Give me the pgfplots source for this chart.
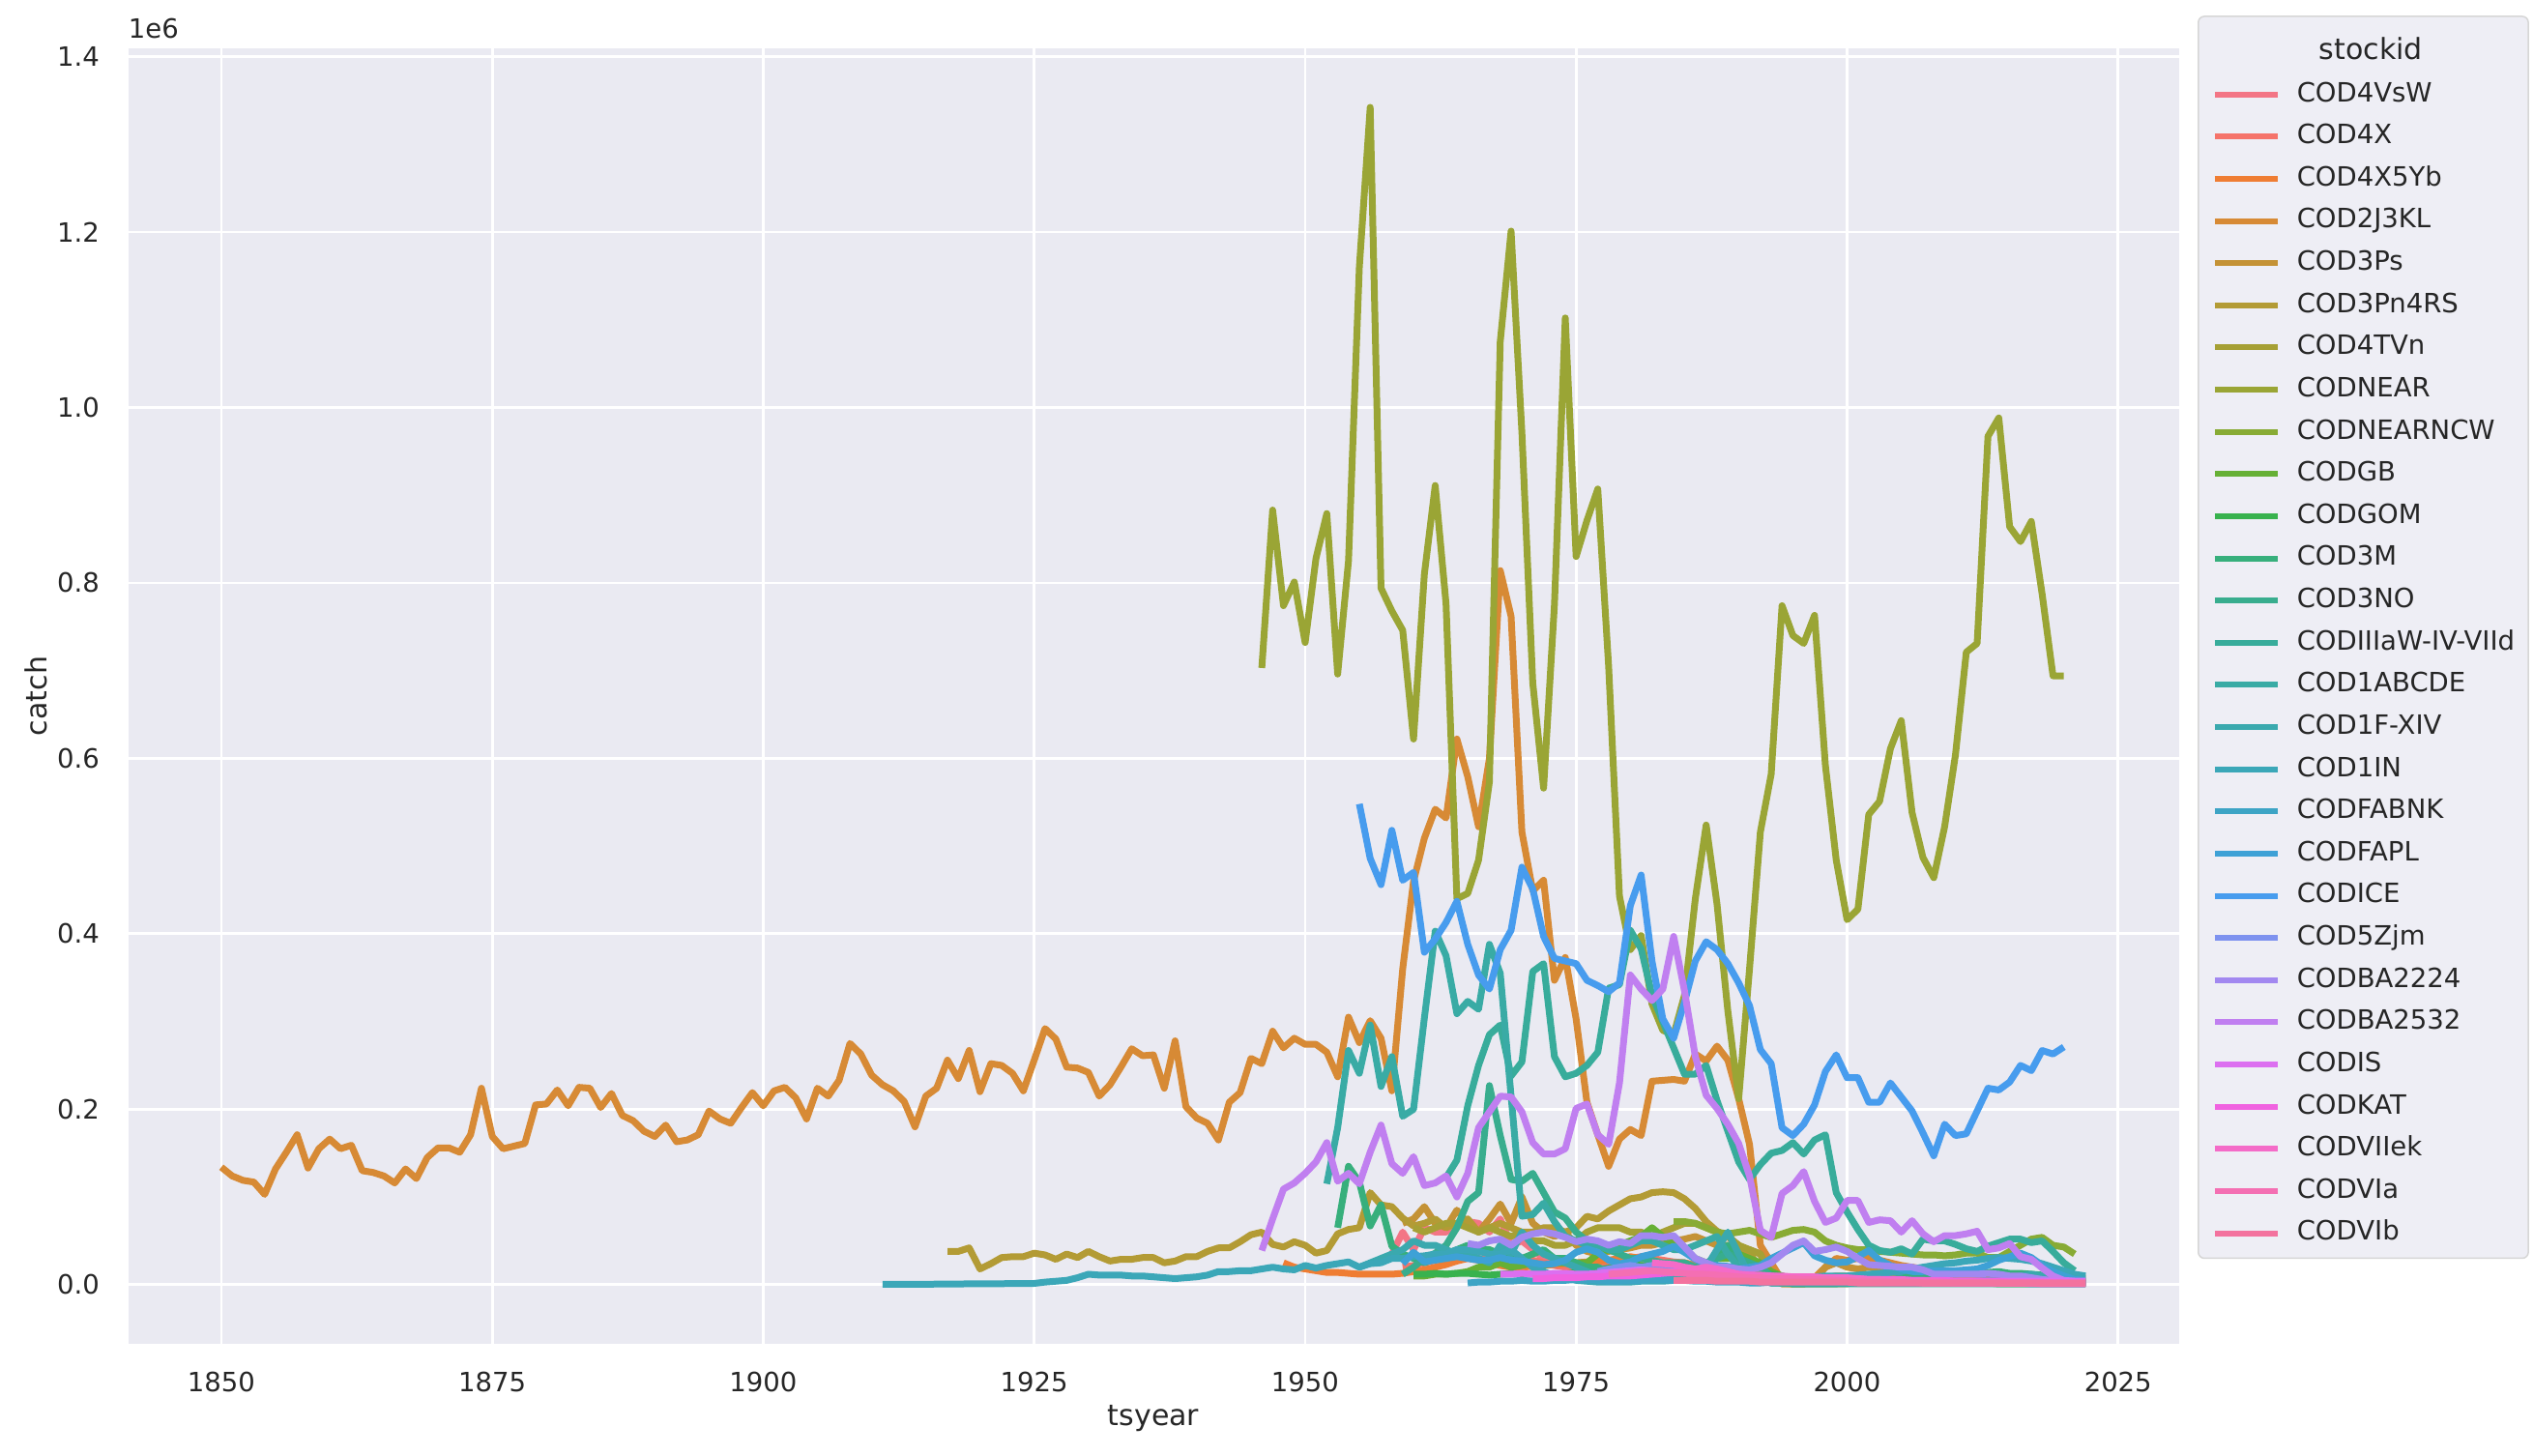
\documentclass[border=0pt]{standalone}
\usepackage{fontspec}
\setmainfont{DejaVu Sans}
\usepackage{pgfplots}
\pgfplotsset{compat=1.18}
\definecolor{bgc}{HTML}{EAEAF2}
\definecolor{txt}{HTML}{262626}
\definecolor{legfill}{HTML}{EEEEF5}
\definecolor{legedge}{HTML}{D6D6D6}
\definecolor{c01}{HTML}{F37585}
\definecolor{c02}{HTML}{F5736A}
\definecolor{c03}{HTML}{EF7D33}
\definecolor{c04}{HTML}{D78A35}
\definecolor{c05}{HTML}{C49236}
\definecolor{c06}{HTML}{B39B35}
\definecolor{c07}{HTML}{A6A035}
\definecolor{c08}{HTML}{9AA535}
\definecolor{c09}{HTML}{88AB35}
\definecolor{c10}{HTML}{66B035}
\definecolor{c11}{HTML}{38B24E}
\definecolor{c12}{HTML}{37AF7C}
\definecolor{c13}{HTML}{38AD8E}
\definecolor{c14}{HTML}{38AC9B}
\definecolor{c15}{HTML}{39ABA5}
\definecolor{c16}{HTML}{3AA9AE}
\definecolor{c17}{HTML}{3BA7B8}
\definecolor{c18}{HTML}{3DA4C5}
\definecolor{c19}{HTML}{3EA1D6}
\definecolor{c20}{HTML}{479CEE}
\definecolor{c21}{HTML}{7E92EF}
\definecolor{c22}{HTML}{A288F0}
\definecolor{c23}{HTML}{C07FF0}
\definecolor{c24}{HTML}{DC6FF0}
\definecolor{c25}{HTML}{F062E0}
\definecolor{c26}{HTML}{F46BC8}
\definecolor{c27}{HTML}{F46FB3}
\definecolor{c28}{HTML}{F3729E}
\begin{document}
\begin{tikzpicture}
\useasboundingbox (-53.0pt,-46.1pt) rectangle (995.4pt,555.9pt);
\begin{axis}[
  at={(0pt,0pt)}, anchor=south west,
  scale only axis, width=848.4pt, height=535.8pt,
  xmin=1841.4, xmax=2030.6, ymin=-0.0671, ymax=1.409,
  clip mode=individual,
  axis background/.style={fill=bgc},
  axis line style={draw=none},
  major tick length=0pt,
  xmajorgrids, ymajorgrids,
  major grid style={draw=white, line width=1.1pt},
  xtick={1850,1875,1900,1925,1950,1975,2000,2025},
  xticklabels={1850,1875,1900,1925,1950,1975,2000,2025},
  ytick={0,0.2,0.4,0.6,0.8,1.0,1.2,1.4},
  yticklabels={0.0,0.2,0.4,0.6,0.8,1.0,1.2,1.4},
  /pgf/number format/assume math mode=true,
  tick label style={font=\fontsize{11}{13}\selectfont, text=txt},
  xticklabel style={anchor=north, yshift=-8.3pt},
  yticklabel style={anchor=east, xshift=-8.3pt},
  xlabel={tsyear}, ylabel={catch},
  label style={font=\fontsize{12}{14}\selectfont, text=txt},
  xlabel style={at={(axis description cs:0.5,-0.0580)}, anchor=center},
  ylabel style={at={(axis description cs:-0.0451,0.5)}, anchor=center},
  every axis plot/.append style={line width=2.8pt, line join=round},
  legend style={
    at={(1.0092,1.0254)}, anchor=north west,
    draw=legedge, fill=legfill, rounded corners=2.5pt, line width=0.6pt,
    font=\fontsize{11}{13}\selectfont, text=txt,
    inner xsep=5.6pt, inner ysep=4.8pt,
    row sep=6.35pt, column sep=6.8pt,
    nodes={inner sep=0pt, text height=8.5pt, text depth=2.6pt, anchor=west},
  },
  legend cell align=left,
  legend image code/.code={\draw[line width=2.4pt, sharp corners] (0pt,0pt) -- (26pt,0pt);},
]
\addlegendimage{empty legend}
\addlegendentry[text height=13pt]{\makebox[61.2pt][c]{\fontsize{12}{14}\selectfont stockid}}

% COD4VsW
\addplot[c01] coordinates {(1958,.035)(1959,.06)(1960,.04)(1961,.065)(1962,.06)(1963,.06)(1964,.07)(1965,.072)(1966,.07)(1967,.06)(1968,.075)(1969,.045)(1970,.05)(1971,.04)(1972,.03)(1973,.025)(1974,.025)(1975,.02)(1976,.02)(1977,.02)(1978,.018)(1979,.02)(1980,.025)(1981,.03)(1982,.03)(1983,.025)(1984,.02)(1985,.015)(1986,.012)(1987,.01)(1988,.01)(1989,.01)(1990,.008)(1991,.007)(1992,.006)(1993,.003)(1994,.002)(1995,.002)(1996,.002)(1997,.002)(1998,.002)(1999,.002)(2000,.002)(2001,.002)(2002,.002)(2003,.002)(2004,.002)(2005,.002)(2006,.002)(2007,.002)(2008,.002)(2009,.002)(2010,.002)(2011,.002)(2012,.002)(2013,.002)(2014,.002)(2015,.002)(2016,.002)(2017,.002)(2018,.002)(2019,.002)(2020,.002)(2021,.002)(2022,.002)};
\addlegendentry{COD4VsW}
% COD4X
\addplot[c02] coordinates {(1959,.02)(1960,.022)(1961,.025)(1962,.028)(1963,.03)(1964,.032)(1965,.035)(1966,.03)(1967,.028)(1968,.03)(1969,.032)(1970,.03)(1971,.028)(1972,.025)(1973,.022)(1974,.02)(1975,.02)(1976,.022)(1977,.024)(1978,.026)(1979,.028)(1980,.03)(1981,.032)(1982,.03)(1983,.028)(1984,.026)(1985,.025)(1986,.022)(1987,.02)(1988,.018)(1989,.016)(1990,.014)(1991,.012)(1992,.01)(1993,.009)(1994,.008)(1995,.008)(1996,.008)(1997,.007)(1998,.007)(1999,.006)(2000,.006)(2001,.006)(2002,.006)(2003,.006)(2004,.005)(2005,.005)(2006,.005)(2007,.005)(2008,.005)(2009,.005)(2010,.005)(2011,.005)(2012,.005)(2013,.005)(2014,.004)(2015,.004)(2016,.004)(2017,.004)(2018,.004)(2019,.004)(2020,.004)(2021,.004)(2022,.004)};
\addlegendentry{COD4X}
% COD4X5Yb
\addplot[c03] coordinates {(1948,.025)(1949,.02)(1950,.018)(1951,.016)(1952,.014)(1953,.014)(1954,.013)(1955,.012)(1956,.012)(1957,.012)(1958,.012)(1959,.013)(1960,.015)(1961,.017)(1962,.02)(1963,.023)(1964,.027)(1965,.03)(1966,.028)(1967,.025)(1968,.022)(1969,.02)(1970,.02)(1971,.021)(1972,.022)(1973,.023)(1974,.024)(1975,.025)(1976,.026)(1977,.027)(1978,.028)(1979,.03)(1980,.032)(1981,.03)(1982,.028)(1983,.025)(1984,.025)(1985,.025)(1986,.022)(1987,.02)(1988,.02)(1989,.018)(1990,.015)(1991,.012)(1992,.01)(1993,.008)(1994,.006)(1995,.005)(1996,.005)(1997,.005)(1998,.005)(1999,.005)(2000,.005)(2001,.005)(2002,.004)(2003,.004)(2004,.004)(2005,.004)(2006,.004)(2007,.004)(2008,.004)(2009,.004)(2010,.004)(2011,.004)(2012,.004)(2013,.004)(2014,.003)(2015,.003)(2016,.003)(2017,.003)(2018,.003)(2019,.003)(2020,.003)(2021,.003)(2022,.003)};
\addlegendentry{COD4X5Yb}
% COD2J3KL
\addplot[c04] coordinates {(1850,.134)(1851,.124)(1852,.119)(1853,.117)(1854,.103)(1855,.132)(1856,.151)(1857,.171)(1858,.133)(1859,.155)(1860,.166)(1861,.155)(1862,.159)(1863,.130)(1864,.128)(1865,.124)(1866,.116)(1867,.132)(1868,.121)(1869,.145)(1870,.156)(1871,.156)(1872,.151)(1873,.171)(1874,.224)(1875,.169)(1876,.155)(1877,.158)(1878,.161)(1879,.205)(1880,.206)(1881,.222)(1882,.204)(1883,.225)(1884,.224)(1885,.202)(1886,.218)(1887,.193)(1888,.187)(1889,.175)(1890,.169)(1891,.182)(1892,.163)(1893,.165)(1894,.171)(1895,.198)(1896,.189)(1897,.184)(1898,.202)(1899,.219)(1900,.204)(1901,.221)(1902,.225)(1903,.213)(1904,.189)(1905,.224)(1906,.215)(1907,.233)(1908,.275)(1909,.263)(1910,.239)(1911,.228)(1912,.221)(1913,.209)(1914,.180)(1915,.215)(1916,.224)(1917,.256)(1918,.235)(1919,.267)(1920,.220)(1921,.252)(1922,.250)(1923,.241)(1924,.221)(1925,.256)(1926,.292)(1927,.280)(1928,.248)(1929,.247)(1930,.242)(1931,.215)(1932,.228)(1933,.248)(1934,.269)(1935,.261)(1936,.262)(1937,.224)(1938,.278)(1939,.203)(1940,.190)(1941,.184)(1942,.165)(1943,.208)(1944,.219)(1945,.258)(1946,.252)(1947,.289)(1948,.270)(1949,.281)(1950,.274)(1951,.274)(1952,.265)(1953,.237)(1954,.305)(1955,.276)(1956,.301)(1957,.281)(1958,.221)(1959,.36)(1960,.46)(1961,.509)(1962,.542)(1963,.532)(1964,.622)(1965,.579)(1966,.522)(1967,.60)(1968,.814)(1969,.762)(1970,.516)(1971,.449)(1972,.461)(1973,.347)(1974,.373)(1975,.303)(1976,.208)(1977,.171)(1978,.135)(1979,.166)(1980,.177)(1981,.170)(1982,.232)(1983,.233)(1984,.234)(1985,.232)(1986,.263)(1987,.255)(1988,.272)(1989,.256)(1990,.212)(1991,.16)(1992,.045)(1993,.025)(1994,.005)(1995,.004)(1996,.006)(1997,.008)(1998,.02)(1999,.03)(2000,.028)(2001,.03)(2002,.03)(2003,.028)(2004,.025)(2005,.022)(2006,.02)(2007,.018)(2008,.015)(2009,.015)(2010,.012)(2011,.012)(2012,.012)(2013,.011)(2014,.010)(2015,.010)(2016,.010)(2017,.010)(2018,.009)(2019,.009)(2020,.008)(2021,.008)(2022,.008)};
\addlegendentry{COD2J3KL}
% COD3Ps
\addplot[c05] coordinates {(1959,.07)(1960,.075)(1961,.089)(1962,.07)(1963,.065)(1964,.085)(1965,.07)(1966,.06)(1967,.075)(1968,.092)(1969,.07)(1970,.1)(1971,.07)(1972,.06)(1973,.055)(1974,.06)(1975,.045)(1976,.038)(1977,.035)(1978,.038)(1979,.04)(1980,.042)(1981,.045)(1982,.045)(1983,.048)(1984,.05)(1985,.052)(1986,.055)(1987,.05)(1988,.045)(1989,.045)(1990,.04)(1991,.04)(1992,.035)(1993,.012)(1994,.001)(1995,.001)(1996,.001)(1997,.005)(1998,.02)(1999,.025)(2000,.02)(2001,.018)(2002,.02)(2003,.018)(2004,.016)(2005,.014)(2006,.013)(2007,.012)(2008,.012)(2009,.01)(2010,.01)(2011,.01)(2012,.01)(2013,.009)(2014,.008)(2015,.007)(2016,.006)(2017,.006)(2018,.005)(2019,.004)(2020,.003)(2021,.003)(2022,.003)};
\addlegendentry{COD3Ps}
% COD3Pn4RS
\addplot[c06] coordinates {(1917,.038)(1918,.038)(1919,.042)(1920,.018)(1921,.024)(1922,.031)(1923,.032)(1924,.032)(1925,.036)(1926,.034)(1927,.029)(1928,.035)(1929,.031)(1930,.038)(1931,.032)(1932,.027)(1933,.029)(1934,.029)(1935,.031)(1936,.031)(1937,.025)(1938,.027)(1939,.032)(1940,.032)(1941,.038)(1942,.042)(1943,.042)(1944,.049)(1945,.057)(1946,.060)(1947,.046)(1948,.043)(1949,.049)(1950,.045)(1951,.036)(1952,.039)(1953,.058)(1954,.063)(1955,.065)(1956,.105)(1957,.091)(1958,.089)(1959,.076)(1960,.067)(1961,.070)(1962,.075)(1963,.065)(1964,.07)(1965,.075)(1966,.06)(1967,.065)(1968,.07)(1969,.065)(1970,.06)(1971,.06)(1972,.065)(1973,.065)(1974,.06)(1975,.065)(1976,.078)(1977,.075)(1978,.084)(1979,.091)(1980,.098)(1981,.10)(1982,.105)(1983,.106)(1984,.105)(1985,.098)(1986,.087)(1987,.072)(1988,.061)(1989,.055)(1990,.045)(1991,.035)(1992,.02)(1993,.01)(1994,.002)(1995,.001)(1996,.001)(1997,.005)(1998,.008)(1999,.01)(2000,.01)(2001,.01)(2002,.01)(2003,.009)(2004,.009)(2005,.008)(2006,.008)(2007,.008)(2008,.007)(2009,.007)(2010,.007)(2011,.006)(2012,.006)(2013,.006)(2014,.006)(2015,.006)(2016,.005)(2017,.005)(2018,.005)(2019,.005)(2020,.005)(2021,.005)(2022,.005)};
\addlegendentry{COD3Pn4RS}
% COD4TVn
\addplot[c07] coordinates {(1960,.065)(1961,.06)(1962,.065)(1963,.07)(1964,.07)(1965,.065)(1966,.06)(1967,.065)(1968,.06)(1969,.055)(1970,.06)(1971,.05)(1972,.05)(1973,.045)(1974,.045)(1975,.05)(1976,.06)(1977,.065)(1978,.065)(1979,.065)(1980,.06)(1981,.06)(1982,.055)(1983,.06)(1984,.065)(1985,.07)(1986,.07)(1987,.065)(1988,.06)(1989,.055)(1990,.045)(1991,.04)(1992,.035)(1993,.01)(1994,.001)(1995,.001)(1996,.001)(1997,.001)(1998,.001)(1999,.001)(2000,.001)(2001,.005)(2002,.005)(2003,.004)(2004,.004)(2005,.004)(2006,.004)(2007,.004)(2008,.003)(2009,.003)(2010,.003)(2011,.003)(2012,.003)(2013,.003)(2014,.003)(2015,.003)(2016,.002)(2017,.002)(2018,.002)(2019,.002)(2020,.002)(2021,.002)(2022,.002)};
\addlegendentry{COD4TVn}
% CODNEAR
\addplot[c08] coordinates {(1946,.703)(1947,.883)(1948,.774)(1949,.801)(1950,.732)(1951,.828)(1952,.879)(1953,.696)(1954,.825)(1955,1.160)(1956,1.342)(1957,.794)(1958,.768)(1959,.746)(1960,.622)(1961,.810)(1962,.911)(1963,.776)(1964,.440)(1965,.446)(1966,.484)(1967,.573)(1968,1.075)(1969,1.201)(1970,.971)(1971,.686)(1972,.566)(1973,.775)(1974,1.102)(1975,.830)(1976,.871)(1977,.907)(1978,.705)(1979,.443)(1980,.382)(1981,.398)(1982,.32)(1983,.29)(1984,.285)(1985,.33)(1986,.44)(1987,.524)(1988,.434)(1989,.312)(1990,.212)(1991,.36)(1992,.516)(1993,.582)(1994,.774)(1995,.740)(1996,.731)(1997,.763)(1998,.592)(1999,.484)(2000,.416)(2001,.428)(2002,.536)(2003,.551)(2004,.611)(2005,.643)(2006,.538)(2007,.487)(2008,.464)(2009,.522)(2010,.604)(2011,.721)(2012,.731)(2013,.967)(2014,.988)(2015,.864)(2016,.847)(2017,.870)(2018,.787)(2019,.694)(2020,.694)};
\addlegendentry{CODNEAR}
% CODNEARNCW
\addplot[c09] coordinates {(1984,.072)(1985,.072)(1986,.07)(1987,.065)(1988,.06)(1989,.058)(1990,.06)(1991,.062)(1992,.058)(1993,.054)(1994,.058)(1995,.062)(1996,.063)(1997,.06)(1998,.05)(1999,.045)(2000,.042)(2001,.04)(2002,.04)(2003,.038)(2004,.037)(2005,.036)(2006,.035)(2007,.034)(2008,.034)(2009,.033)(2010,.034)(2011,.036)(2012,.036)(2013,.031)(2014,.031)(2015,.038)(2016,.045)(2017,.052)(2018,.054)(2019,.045)(2020,.043)(2021,.035)};
\addlegendentry{CODNEARNCW}
% CODGB
\addplot[c10] coordinates {(1960,.01)(1961,.01)(1962,.012)(1963,.012)(1964,.013)(1965,.015)(1966,.02)(1967,.02)(1968,.025)(1969,.02)(1970,.022)(1971,.025)(1972,.022)(1973,.025)(1974,.025)(1975,.025)(1976,.025)(1977,.035)(1978,.04)(1979,.045)(1980,.05)(1981,.055)(1982,.065)(1983,.055)(1984,.045)(1985,.04)(1986,.03)(1987,.025)(1988,.03)(1989,.03)(1990,.035)(1991,.03)(1992,.025)(1993,.015)(1994,.01)(1995,.005)(1996,.004)(1997,.004)(1998,.004)(1999,.004)(2000,.004)(2001,.004)(2002,.004)(2003,.003)(2004,.003)(2005,.003)(2006,.003)(2007,.003)(2008,.003)(2009,.003)(2010,.003)(2011,.003)(2012,.002)(2013,.002)(2014,.002)(2015,.002)(2016,.002)(2017,.002)(2018,.002)(2019,.002)(2020,.002)(2021,.002)(2022,.002)};
\addlegendentry{CODGB}
% CODGOM
\addplot[c11] coordinates {(1960,.012)(1961,.012)(1962,.013)(1963,.012)(1964,.013)(1965,.013)(1966,.012)(1967,.011)(1968,.012)(1969,.013)(1970,.012)(1971,.012)(1972,.011)(1973,.011)(1974,.012)(1975,.014)(1976,.015)(1977,.017)(1978,.019)(1979,.021)(1980,.023)(1981,.022)(1982,.021)(1983,.02)(1984,.018)(1985,.016)(1986,.014)(1987,.014)(1988,.015)(1989,.018)(1990,.02)(1991,.021)(1992,.016)(1993,.012)(1994,.01)(1995,.007)(1996,.006)(1997,.006)(1998,.005)(1999,.004)(2000,.004)(2001,.004)(2002,.004)(2003,.004)(2004,.003)(2005,.003)(2006,.003)(2007,.003)(2008,.003)(2009,.003)(2010,.003)(2011,.003)(2012,.002)(2013,.002)(2014,.001)(2015,.001)(2016,.001)(2017,.001)(2018,.001)(2019,.001)(2020,.001)(2021,.001)(2022,.001)};
\addlegendentry{CODGOM}
% COD3M
\addplot[c12] coordinates {(1953,.065)(1954,.135)(1955,.117)(1956,.067)(1957,.091)(1958,.044)(1959,.035)(1960,.03)(1961,.025)(1962,.03)(1963,.035)(1964,.04)(1965,.045)(1966,.04)(1967,.04)(1968,.035)(1969,.03)(1970,.03)(1971,.035)(1972,.04)(1973,.03)(1974,.03)(1975,.025)(1976,.02)(1977,.02)(1978,.015)(1979,.012)(1980,.012)(1981,.012)(1982,.012)(1983,.012)(1984,.012)(1985,.012)(1986,.015)(1987,.02)(1988,.03)(1989,.045)(1990,.03)(1991,.025)(1992,.015)(1993,.01)(1994,.003)(1995,.001)(1996,.001)(1997,.001)(1998,.001)(1999,.001)(2000,.005)(2001,.005)(2002,.004)(2003,.004)(2004,.005)(2005,.008)(2006,.01)(2007,.012)(2008,.012)(2009,.015)(2010,.012)(2011,.014)(2012,.012)(2013,.014)(2014,.015)(2015,.013)(2016,.013)(2017,.012)(2018,.011)(2019,.01)(2020,.009)(2021,.008)(2022,.007)};
\addlegendentry{COD3M}
% COD3NO
\addplot[c13] coordinates {(1959,.012)(1960,.02)(1961,.03)(1962,.036)(1963,.045)(1964,.065)(1965,.095)(1966,.105)(1967,.227)(1968,.17)(1969,.12)(1970,.118)(1971,.127)(1972,.105)(1973,.083)(1974,.076)(1975,.06)(1976,.05)(1977,.045)(1978,.04)(1979,.035)(1980,.03)(1981,.03)(1982,.028)(1983,.025)(1984,.025)(1985,.025)(1986,.02)(1987,.025)(1988,.03)(1989,.035)(1990,.03)(1991,.025)(1992,.02)(1993,.01)(1994,.005)(1995,.001)(1996,.001)(1997,.001)(1998,.001)(1999,.001)(2000,.001)(2001,.001)(2002,.001)(2003,.001)(2004,.001)(2005,.001)(2006,.001)(2007,.001)(2008,.001)(2009,.001)(2010,.001)(2011,.001)(2012,.001)(2013,.001)(2014,.001)(2015,.001)(2016,.001)(2017,.001)(2018,.001)(2019,.001)(2020,.001)(2021,.001)(2022,.001)};
\addlegendentry{COD3NO}
% CODIIIaW-IV-VIId
\addplot[c14] coordinates {(1963,.122)(1964,.142)(1965,.204)(1966,.250)(1967,.285)(1968,.296)(1969,.238)(1970,.254)(1971,.357)(1972,.366)(1973,.260)(1974,.237)(1975,.241)(1976,.250)(1977,.265)(1978,.338)(1979,.342)(1980,.404)(1981,.383)(1982,.33)(1983,.30)(1984,.27)(1985,.24)(1986,.24)(1987,.25)(1988,.21)(1989,.175)(1990,.14)(1991,.12)(1992,.137)(1993,.15)(1994,.153)(1995,.162)(1996,.149)(1997,.165)(1998,.171)(1999,.105)(2000,.083)(2001,.063)(2002,.045)(2003,.039)(2004,.037)(2005,.041)(2006,.035)(2007,.052)(2008,.050)(2009,.050)(2010,.046)(2011,.041)(2012,.038)(2013,.044)(2014,.048)(2015,.052)(2016,.052)(2017,.048)(2018,.050)(2019,.038)(2020,.025)(2021,.016)};
\addlegendentry{CODIIIaW-IV-VIId}
% COD1ABCDE
\addplot[c15] coordinates {(1952,.115)(1953,.179)(1954,.267)(1955,.241)(1956,.296)(1957,.226)(1958,.260)(1959,.192)(1960,.200)(1961,.304)(1962,.403)(1963,.375)(1964,.309)(1965,.323)(1966,.314)(1967,.388)(1968,.355)(1969,.215)(1970,.078)(1971,.080)(1972,.093)(1973,.072)(1974,.055)(1975,.05)(1976,.045)(1977,.045)(1978,.04)(1979,.04)(1980,.045)(1981,.05)(1982,.05)(1983,.045)(1984,.04)(1985,.04)(1986,.045)(1987,.05)(1988,.055)(1989,.035)(1990,.02)(1991,.01)(1992,.005)(1993,.002)(1994,.002)(1995,.002)(1996,.002)(1997,.002)(1998,.002)(1999,.002)(2000,.002)(2001,.002)(2002,.002)(2003,.002)(2004,.002)(2005,.002)(2006,.002)(2007,.002)(2008,.002)(2009,.002)(2010,.002)(2011,.002)(2012,.002)(2013,.002)(2014,.002)(2015,.002)(2016,.002)(2017,.002)(2018,.002)(2019,.002)(2020,.002)(2021,.002)(2022,.002)};
\addlegendentry{COD1ABCDE}
% COD1F-XIV
\addplot[c16] coordinates {(1955,.02)(1956,.025)(1957,.03)(1958,.035)(1959,.04)(1960,.05)(1961,.045)(1962,.045)(1963,.04)(1964,.035)(1965,.035)(1966,.03)(1967,.025)(1968,.045)(1969,.035)(1970,.06)(1971,.045)(1972,.035)(1973,.03)(1974,.025)(1975,.02)(1976,.015)(1977,.01)(1978,.01)(1979,.015)(1980,.02)(1981,.015)(1982,.012)(1983,.01)(1984,.008)(1985,.008)(1986,.01)(1987,.02)(1988,.04)(1989,.06)(1990,.035)(1991,.01)(1992,.005)(1993,.002)(1994,.002)(1995,.002)(1996,.002)(1997,.002)(1998,.002)(1999,.002)(2000,.002)(2001,.002)(2002,.002)(2003,.002)(2004,.002)(2005,.002)(2006,.002)(2007,.002)(2008,.002)(2009,.002)(2010,.002)(2011,.003)(2012,.004)(2013,.005)(2014,.007)(2015,.008)(2016,.01)(2017,.012)(2018,.01)(2019,.008)(2020,.006)};
\addlegendentry{COD1F-XIV}
% COD1IN
\addplot[c17] coordinates {(1911,.0005)(1912,.0005)(1913,.0005)(1914,.0005)(1915,.0006)(1916,.0007)(1917,.0008)(1918,.0009)(1919,.001)(1920,.001)(1921,.0012)(1922,.0012)(1923,.0013)(1924,.0014)(1925,.0015)(1926,.003)(1927,.004)(1928,.005)(1929,.008)(1930,.012)(1931,.011)(1932,.011)(1933,.011)(1934,.010)(1935,.010)(1936,.009)(1937,.008)(1938,.007)(1939,.008)(1940,.009)(1941,.011)(1942,.015)(1943,.015)(1944,.016)(1945,.016)(1946,.018)(1947,.020)(1948,.018)(1949,.017)(1950,.022)(1951,.019)(1952,.022)(1953,.024)(1954,.026)(1955,.020)(1956,.024)(1957,.025)(1958,.030)(1959,.030)(1960,.032)(1961,.033)(1962,.035)(1963,.035)(1964,.040)(1965,.040)(1966,.038)(1967,.035)(1968,.035)(1969,.040)(1970,.030)(1971,.020)(1972,.015)(1973,.010)(1974,.008)(1975,.005)(1976,.004)(1977,.003)(1978,.003)(1979,.003)(1980,.003)(1981,.004)(1982,.004)(1983,.004)(1984,.005)(1985,.005)(1986,.006)(1987,.006)(1988,.007)(1989,.007)(1990,.005)(1991,.005)(1992,.005)(1993,.006)(1994,.006)(1995,.007)(1996,.008)(1997,.009)(1998,.010)(1999,.010)(2000,.010)(2001,.011)(2002,.012)(2003,.013)(2004,.014)(2005,.015)(2006,.018)(2007,.020)(2008,.022)(2009,.024)(2010,.025)(2011,.027)(2012,.028)(2013,.030)(2014,.031)(2015,.030)(2016,.029)(2017,.027)(2018,.024)(2019,.020)(2020,.016)(2021,.012)(2022,.010)};
\addlegendentry{COD1IN}
% CODFABNK
\addplot[c18] coordinates {(1965,.002)(1966,.003)(1967,.003)(1968,.004)(1969,.004)(1970,.005)(1971,.004)(1972,.004)(1973,.005)(1974,.005)(1975,.006)(1976,.006)(1977,.005)(1978,.004)(1979,.004)(1980,.005)(1981,.005)(1982,.006)(1983,.006)(1984,.005)(1985,.005)(1986,.004)(1987,.004)(1988,.003)(1989,.003)(1990,.003)(1991,.002)(1992,.002)(1993,.003)(1994,.004)(1995,.004)(1996,.005)(1997,.005)(1998,.004)(1999,.004)(2000,.004)(2001,.003)(2002,.003)(2003,.003)(2004,.002)(2005,.002)(2006,.002)(2007,.002)(2008,.002)(2009,.002)(2010,.002)(2011,.002)(2012,.002)(2013,.002)(2014,.002)(2015,.002)(2016,.002)(2017,.002)(2018,.002)(2019,.002)(2020,.002)(2021,.002)(2022,.002)};
\addlegendentry{CODFABNK}
% CODFAPL
\addplot[c19] coordinates {(1959,.024)(1960,.037)(1961,.026)(1962,.028)(1963,.03)(1964,.032)(1965,.03)(1966,.028)(1967,.028)(1968,.031)(1969,.028)(1970,.027)(1971,.025)(1972,.023)(1973,.024)(1974,.028)(1975,.037)(1976,.041)(1977,.037)(1978,.028)(1979,.024)(1980,.026)(1981,.032)(1982,.035)(1983,.038)(1984,.044)(1985,.037)(1986,.029)(1987,.024)(1988,.022)(1989,.021)(1990,.018)(1991,.02)(1992,.022)(1993,.03)(1994,.036)(1995,.042)(1996,.048)(1997,.033)(1998,.028)(1999,.025)(2000,.026)(2001,.032)(2002,.039)(2003,.028)(2004,.022)(2005,.018)(2006,.015)(2007,.015)(2008,.016)(2009,.016)(2010,.016)(2011,.017)(2012,.018)(2013,.022)(2014,.028)(2015,.032)(2016,.036)(2017,.031)(2018,.022)(2019,.015)(2020,.01)(2021,.006)(2022,.005)};
\addlegendentry{CODFAPL}
% CODICE
\addplot[c20] coordinates {(1955,.548)(1956,.486)(1957,.456)(1958,.518)(1959,.461)(1960,.470)(1961,.379)(1962,.394)(1963,.413)(1964,.437)(1965,.388)(1966,.353)(1967,.337)(1968,.382)(1969,.404)(1970,.476)(1971,.451)(1972,.397)(1973,.372)(1974,.369)(1975,.366)(1976,.347)(1977,.341)(1978,.334)(1979,.344)(1980,.432)(1981,.467)(1982,.369)(1983,.303)(1984,.281)(1985,.322)(1986,.369)(1987,.391)(1988,.382)(1989,.366)(1990,.344)(1991,.318)(1992,.268)(1993,.252)(1994,.179)(1995,.170)(1996,.183)(1997,.205)(1998,.243)(1999,.262)(2000,.236)(2001,.236)(2002,.208)(2003,.208)(2004,.230)(2005,.214)(2006,.198)(2007,.173)(2008,.147)(2009,.183)(2010,.170)(2011,.172)(2012,.198)(2013,.224)(2014,.222)(2015,.231)(2016,.250)(2017,.244)(2018,.267)(2019,.263)(2020,.271)};
\addlegendentry{CODICE}
% COD5Zjm
\addplot[c21] coordinates {(1977,.015)(1978,.018)(1979,.02)(1980,.022)(1981,.02)(1982,.022)(1983,.02)(1984,.018)(1985,.015)(1986,.013)(1987,.012)(1988,.012)(1989,.01)(1990,.01)(1991,.009)(1992,.008)(1993,.008)(1994,.007)(1995,.006)(1996,.006)(1997,.006)(1998,.005)(1999,.005)(2000,.005)(2001,.004)(2002,.004)(2003,.004)(2004,.004)(2005,.003)(2006,.003)(2007,.003)(2008,.003)(2009,.003)(2010,.002)(2011,.002)(2012,.002)(2013,.002)(2014,.002)(2015,.002)(2016,.002)(2017,.001)(2018,.001)(2019,.001)(2020,.001)(2021,.001)(2022,.001)};
\addlegendentry{COD5Zjm}
% CODBA2224
\addplot[c22] coordinates {(1965,.047)(1966,.045)(1967,.050)(1968,.052)(1969,.045)(1970,.054)(1971,.058)(1972,.060)(1973,.058)(1974,.054)(1975,.049)(1976,.052)(1977,.050)(1978,.045)(1979,.049)(1980,.047)(1981,.056)(1982,.056)(1983,.054)(1984,.056)(1985,.043)(1986,.03)(1987,.025)(1988,.02)(1989,.02)(1990,.018)(1991,.017)(1992,.02)(1993,.025)(1994,.035)(1995,.045)(1996,.05)(1997,.038)(1998,.04)(1999,.043)(2000,.038)(2001,.03)(2002,.023)(2003,.022)(2004,.021)(2005,.02)(2006,.02)(2007,.017)(2008,.012)(2009,.012)(2010,.012)(2011,.012)(2012,.012)(2013,.013)(2014,.012)(2015,.01)(2016,.01)(2017,.008)(2018,.006)(2019,.005)(2020,.004)(2021,.003)(2022,.003)};
\addlegendentry{CODBA2224}
% CODBA2532
\addplot[c23] coordinates {(1946,.039)(1947,.075)(1948,.109)(1949,.116)(1950,.127)(1951,.140)(1952,.162)(1953,.118)(1954,.127)(1955,.115)(1956,.151)(1957,.182)(1958,.138)(1959,.127)(1960,.146)(1961,.113)(1962,.116)(1963,.124)(1964,.100)(1965,.127)(1966,.179)(1967,.197)(1968,.215)(1969,.214)(1970,.197)(1971,.162)(1972,.149)(1973,.149)(1974,.155)(1975,.201)(1976,.206)(1977,.171)(1978,.160)(1979,.23)(1980,.353)(1981,.337)(1982,.324)(1983,.337)(1984,.397)(1985,.335)(1986,.26)(1987,.216)(1988,.201)(1989,.183)(1990,.161)(1991,.124)(1992,.062)(1993,.054)(1994,.104)(1995,.113)(1996,.129)(1997,.095)(1998,.071)(1999,.076)(2000,.096)(2001,.096)(2002,.071)(2003,.074)(2004,.073)(2005,.060)(2006,.073)(2007,.058)(2008,.049)(2009,.056)(2010,.056)(2011,.058)(2012,.061)(2013,.040)(2014,.042)(2015,.047)(2016,.032)(2017,.029)(2018,.019)(2019,.010)(2020,.005)(2021,.004)};
\addlegendentry{CODBA2532}
% CODIS
\addplot[c24] coordinates {(1968,.012)(1969,.012)(1970,.013)(1971,.012)(1972,.012)(1973,.013)(1974,.013)(1975,.012)(1976,.012)(1977,.013)(1978,.014)(1979,.015)(1980,.016)(1981,.017)(1982,.016)(1983,.015)(1984,.015)(1985,.016)(1986,.014)(1987,.012)(1988,.011)(1989,.01)(1990,.009)(1991,.008)(1992,.008)(1993,.007)(1994,.007)(1995,.006)(1996,.006)(1997,.006)(1998,.006)(1999,.005)(2000,.005)(2001,.005)(2002,.005)(2003,.005)(2004,.005)(2005,.005)(2006,.005)(2007,.005)(2008,.004)(2009,.004)(2010,.004)(2011,.004)(2012,.004)(2013,.004)(2014,.004)(2015,.004)(2016,.004)(2017,.004)(2018,.004)(2019,.004)(2020,.004)(2021,.004)(2022,.004)};
\addlegendentry{CODIS}
% CODKAT
\addplot[c25] coordinates {(1971,.007)(1972,.007)(1973,.008)(1974,.008)(1975,.008)(1976,.009)(1977,.009)(1978,.01)(1979,.01)(1980,.01)(1981,.011)(1982,.012)(1983,.013)(1984,.014)(1985,.015)(1986,.014)(1987,.013)(1988,.012)(1989,.012)(1990,.012)(1991,.011)(1992,.01)(1993,.01)(1994,.009)(1995,.009)(1996,.008)(1997,.008)(1998,.008)(1999,.007)(2000,.007)(2001,.007)(2002,.006)(2003,.006)(2004,.006)(2005,.006)(2006,.005)(2007,.005)(2008,.005)(2009,.005)(2010,.004)(2011,.004)(2012,.004)(2013,.004)(2014,.004)(2015,.003)(2016,.003)(2017,.003)(2018,.003)(2019,.002)(2020,.002)(2021,.002)(2022,.002)};
\addlegendentry{CODKAT}
% CODVIIek
\addplot[c26] coordinates {(1982,.025)(1983,.024)(1984,.023)(1985,.02)(1986,.018)(1987,.02)(1988,.018)(1989,.015)(1990,.012)(1991,.011)(1992,.011)(1993,.01)(1994,.01)(1995,.009)(1996,.009)(1997,.009)(1998,.008)(1999,.008)(2000,.008)(2001,.007)(2002,.006)(2003,.006)(2004,.005)(2005,.005)(2006,.004)(2007,.004)(2008,.004)(2009,.003)(2010,.003)(2011,.003)(2012,.003)(2013,.003)(2014,.002)(2015,.002)(2016,.002)(2017,.002)(2018,.001)(2019,.001)(2020,.001)(2021,.001)(2022,.001)};
\addlegendentry{CODVIIek}
% CODVIa
\addplot[c27] coordinates {(1978,.012)(1979,.013)(1980,.014)(1981,.015)(1982,.016)(1983,.015)(1984,.014)(1985,.013)(1986,.012)(1987,.012)(1988,.011)(1989,.01)(1990,.009)(1991,.008)(1992,.008)(1993,.007)(1994,.007)(1995,.007)(1996,.006)(1997,.006)(1998,.006)(1999,.005)(2000,.005)(2001,.004)(2002,.004)(2003,.004)(2004,.003)(2005,.003)(2006,.003)(2007,.002)(2008,.002)(2009,.002)(2010,.002)(2011,.002)(2012,.002)(2013,.002)(2014,.002)(2015,.002)(2016,.002)(2017,.002)(2018,.002)(2019,.002)(2020,.002)(2021,.002)(2022,.002)};
\addlegendentry{CODVIa}
% CODVIb
\addplot[c28] coordinates {(1984,.005)(1985,.005)(1986,.005)(1987,.005)(1988,.004)(1989,.004)(1990,.004)(1991,.004)(1992,.003)(1993,.003)(1994,.003)(1995,.003)(1996,.003)(1997,.003)(1998,.003)(1999,.003)(2000,.003)(2001,.002)(2002,.002)(2003,.002)(2004,.002)(2005,.002)(2006,.002)(2007,.002)(2008,.002)(2009,.002)(2010,.002)(2011,.002)(2012,.002)(2013,.002)(2014,.002)(2015,.002)(2016,.002)(2017,.002)(2018,.002)(2019,.002)(2020,.002)(2021,.002)(2022,.002)};
\addlegendentry{CODVIb}

\node[anchor=south west, inner sep=0pt, font=\fontsize{11}{13}\selectfont, text=txt] at (rel axis cs:0,1) [yshift=4pt] {1e6};
\end{axis}
\end{tikzpicture}
\end{document}
